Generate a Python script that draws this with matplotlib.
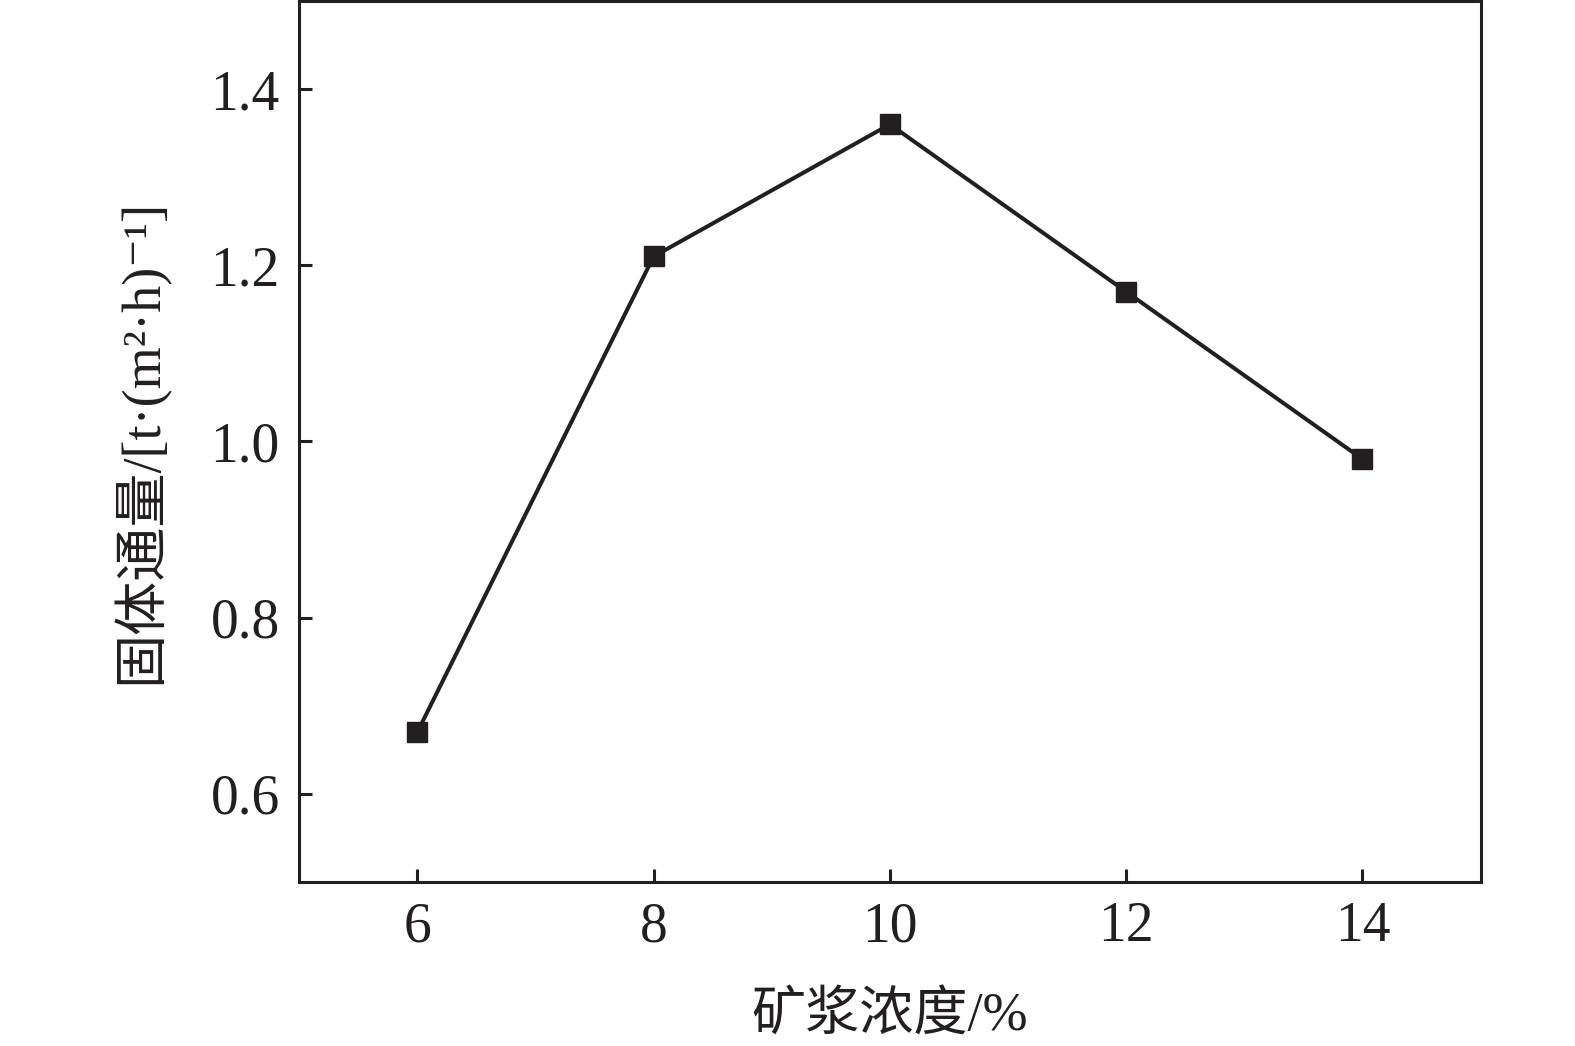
import matplotlib
matplotlib.use("Agg")
import matplotlib.pyplot as plt

plt.rcParams['font.family'] = ['Liberation Serif', 'Noto Sans CJK SC', 'DejaVu Sans']

concentration = [6, 8, 10, 12, 14]
flux = [0.67, 1.21, 1.36, 1.17, 0.98]
xticks = [6, 8, 10, 12, 14]
yticks = [0.6, 0.8, 1.0, 1.2, 1.4]

ink = '#231f20'

fig = plt.figure(figsize=(15.75, 10.46), dpi=100)
ax = fig.add_axes([0.190, 0.157, 0.750, 0.842])
ax.plot(concentration, flux, '-', color=ink, lw=2.9,
        marker='s', markersize=14.5, markerfacecolor=ink, markeredgecolor=ink)

ax.set_xlim(5, 15)
ax.set_ylim(0.5, 1.5)
ax.set_xticks(xticks)
ax.set_yticks(yticks)
ax.set_yticklabels(['%.1f' % v for v in yticks])
ax.tick_params(direction='in', length=9.5, width=2.2, colors=ink, labelsize=40)
ax.tick_params(axis='x', pad=14)
ax.tick_params(axis='y', pad=14)
for s in ax.spines.values():
    s.set_linewidth(2.2)
    s.set_color(ink)

ax.set_xlabel('矿浆浓度/%', fontsize=39, color=ink, labelpad=27)
ax.set_ylabel('固体通量/[t·(m²·h)⁻¹]', fontsize=39, color=ink, labelpad=30)

fig.savefig('out.png', dpi=100)
